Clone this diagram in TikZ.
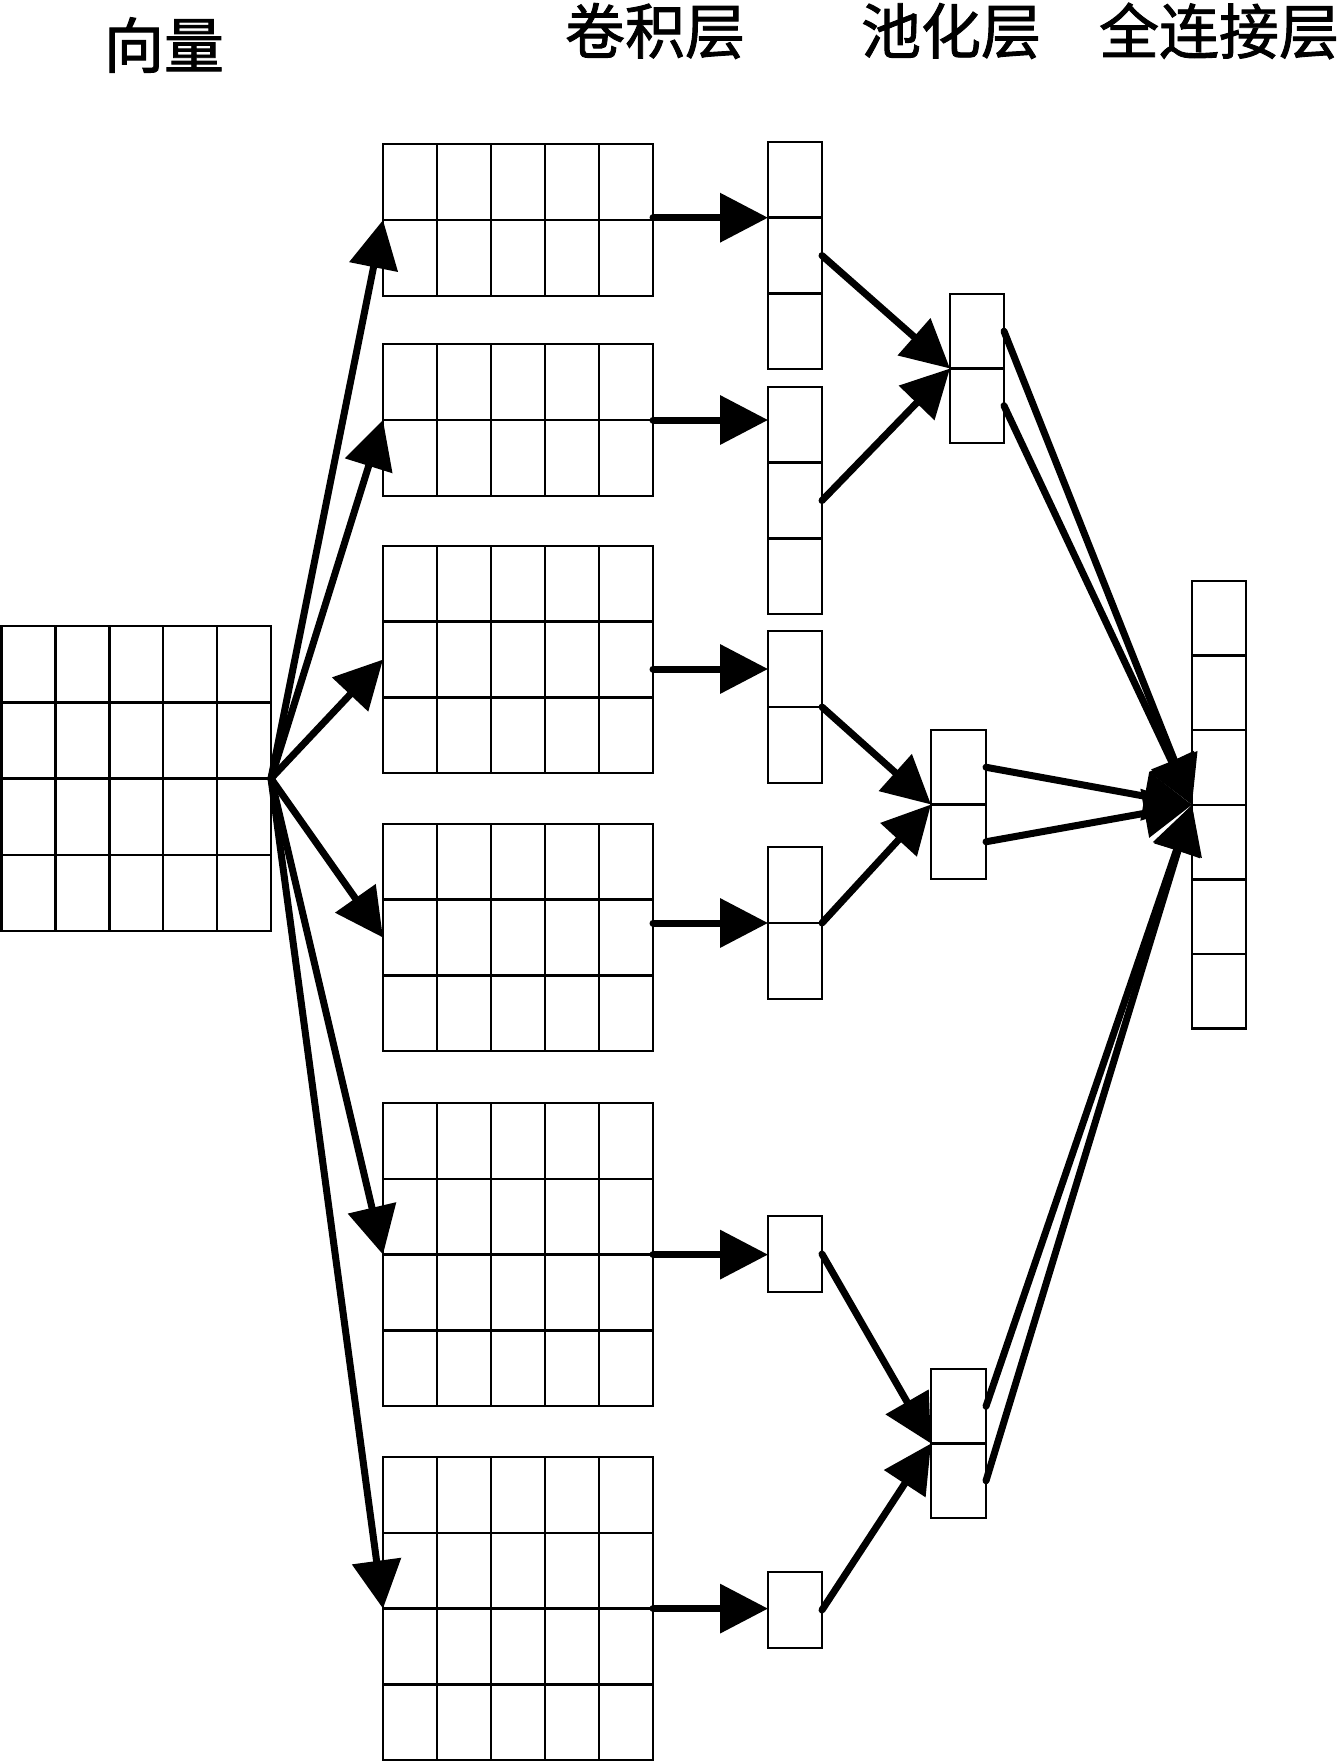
\documentclass[tikz,border=0pt]{standalone}
\usepackage{fontspec}
\newfontfamily\cjk[FakeBold=1.5]{Noto Sans CJK SC}
\usetikzlibrary{arrows.meta,calc}
\tikzset{
  cellbox/.style={draw, line width=2.5pt, inner sep=0pt, outer sep=0pt, anchor=north west, fill=white},
  gridline/.style={line width=2.5pt},
  conn/.style={line width=7pt, line cap=round, -{Triangle[length=48pt,width=48pt]}},
  title/.style={font=\cjk\fontsize{60pt}{60pt}\selectfont, inner sep=0pt}
}
% name, x, y, cols, rows, cell width, cell height
\newcommand\mygrid[7]{%
  \node[cellbox, minimum width={(#4)*(#6)*1pt}, minimum height={(#5)*(#7)*1pt}] (#1) at (#2,#3) {};
  \ifnum#4>1
    \foreach \i in {1,...,\numexpr#4-1\relax}{
      \draw[gridline] ($(#1.north west)+(\i*#6,0)$) -- ($(#1.south west)+(\i*#6,0)$);}
  \fi
  \ifnum#5>1
    \foreach \j in {1,...,\numexpr#5-1\relax}{
      \draw[gridline] ($(#1.north west)+(0,\j*#7)$) -- ($(#1.north east)+(0,\j*#7)$);}
  \fi
}
\begin{document}
\begin{tikzpicture}[x=1pt,y=-1pt]
\useasboundingbox[fill=white] (0,0) rectangle (1340,1762);

% titles
\node[title] (t1) at (164,45) {向量};
\node[title] (t2) at (655,31) {卷积层};
\node[title] (t3) at (951,31) {池化层};
\node[title] (t4) at (1219,31) {全连接层};

% input
\mygrid{inp}{1.5}{626}{5}{4}{53.9}{76.25}
% convolution blocks
\mygrid{b1}{383}{144}{5}{2}{54}{76}
\mygrid{b2}{383}{344}{5}{2}{54}{76}
\mygrid{b3}{383}{546}{5}{3}{54}{75.7}
\mygrid{b4}{383}{824}{5}{3}{54}{75.7}
\mygrid{b5}{383}{1103}{5}{4}{54}{75.8}
\mygrid{b6}{383}{1457}{5}{4}{54}{75.8}
% feature columns
\mygrid{colA}{768}{142}{1}{3}{54}{75.7}
\mygrid{colB}{768}{387}{1}{3}{54}{75.7}
\mygrid{colC}{768}{631}{1}{2}{54}{76}
\mygrid{colD}{768}{847}{1}{2}{54}{76}
\mygrid{colE}{768}{1216}{1}{1}{54}{76}
\mygrid{colF}{768}{1572}{1}{1}{54}{76}
% pooling
\mygrid{p1}{950}{294}{1}{2}{54}{74.5}
\mygrid{p2}{931}{730}{1}{2}{55}{74.5}
\mygrid{p3}{931}{1369}{1}{2}{55}{74.5}
% fully connected
\mygrid{fc}{1192}{581}{1}{6}{54}{74.6}

% ports
\coordinate (colAin) at ($(colA.north west)!1/3!(colA.south west)$);
\coordinate (colCin) at ($(colC.north west)!0.25!(colC.south west)$);
\coordinate (p1a) at ($(p1.north east)!0.25!(p1.south east)$);
\coordinate (p1b) at ($(p1.north east)!0.75!(p1.south east)$);
\coordinate (p2a) at ($(p2.north east)!0.25!(p2.south east)$);
\coordinate (p2b) at ($(p2.north east)!0.75!(p2.south east)$);
\coordinate (p3a) at ($(p3.north east)!0.25!(p3.south east)$);
\coordinate (p3b) at ($(p3.north east)!0.75!(p3.south east)$);

% input -> conv
\foreach \b in {b1,b2,b3,b4,b5,b6}{
  \draw[conn] (inp.east) -- (\b.west);}

% conv -> columns
\draw[conn] (colAin -| b1.east) -- (colAin);
\draw[conn] (b2.east) -- (b2.east -| colB.west);
\draw[conn] (colCin -| b3.east) -- (colCin);
\draw[conn] (colD.west -| b4.east) -- (colD.west);
\draw[conn] (b5.east) -- (b5.east -| colE.west);
\draw[conn] (b6.east) -- (b6.east -| colF.west);

% columns -> pooling
\draw[conn] (colA.east) -- (p1.west);
\draw[conn] (colB.east) -- (p1.west);
\draw[conn] (colC.east) -- (p2.west);
\draw[conn] (colD.east) -- (p2.west);
\draw[conn] (colE.east) -- (p3.west);
\draw[conn] (colF.east) -- (p3.west);

% pooling -> fully connected
\foreach \s in {p1a,p1b,p2a,p2b,p3a,p3b}{
  \draw[conn] (\s) -- (fc.west);}
\end{tikzpicture}
\end{document}
